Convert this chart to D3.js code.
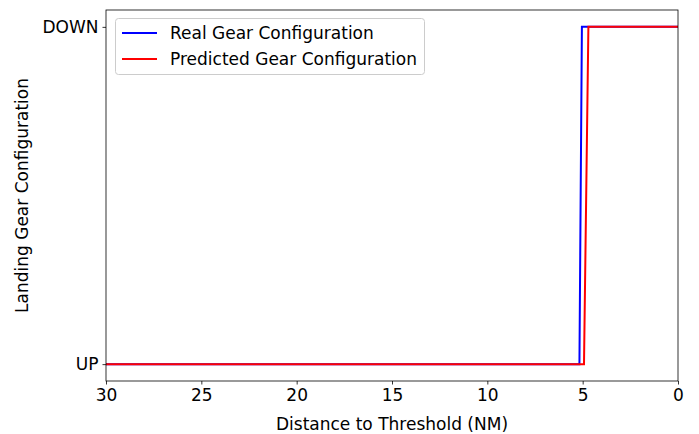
<!DOCTYPE html>
<html><head><meta charset="utf-8">
<script src="https://cdn.jsdelivr.net/npm/d3@7"></script>
<style>body{margin:0;background:#fff}svg{display:block;font-family:"DejaVu Sans",sans-serif}</style>
</head><body><svg id="c" width="699" height="434"></svg>
<script>
const xTicks = [30, 25, 20, 15, 10, 5, 0];
const yTicks = [0, 1];
const yTickLabels = ["UP", "DOWN"];
const realDist = [30, 5.17, 5.04, 0];
const realGear = [0, 0, 1, 1];
const predDist = [30, 4.93, 4.70, 0];
const predGear = [0, 0, 1, 1];
const seriesNames = ["Real Gear Configuration", "Predicted Gear Configuration"];
const seriesColors = ["#0000ff", "#ff0000"];

const svg = d3.select("#c");
const L = 106, R = 678, T = 10, B = 381;
const x = d3.scaleLinear().domain([30, 0]).range([L, R]);
const y = d3.scaleLinear().domain([-0.05, 1.05]).range([B, T]);

const xAxis = svg.append("g").attr("transform", `translate(0,${B})`)
  .call(d3.axisBottom(x).tickValues(xTicks).tickSize(3.5).tickPadding(4).tickFormat(d3.format("d")));
const yAxis = svg.append("g").attr("transform", `translate(${L},0)`)
  .call(d3.axisLeft(y).tickValues(yTicks).tickSize(3.5).tickPadding(4).tickFormat((d,i)=>yTickLabels[i]));
[xAxis, yAxis].forEach(a => {
  a.attr("font-size", 17).attr("font-family", "DejaVu Sans");
  a.select(".domain").remove();
  a.selectAll("text").attr("fill", "#000");
  a.selectAll("line").attr("stroke", "#000").attr("stroke-width", 0.8);
});

const line = d3.line().x(d => x(d[0])).y(d => y(d[1]));
const series = [
  d3.zip(realDist, realGear),
  d3.zip(predDist, predGear)
];
series.forEach((s, i) => {
  svg.append("path").datum(s).attr("d", line).attr("fill", "none")
    .attr("stroke", seriesColors[i]).attr("stroke-width", 2);
});

svg.append("rect").attr("x", L).attr("y", T).attr("width", R - L).attr("height", B - T)
  .attr("fill", "none").attr("stroke", "#000").attr("stroke-width", 0.8);

// legend
const lg = svg.append("g");
lg.append("rect").attr("x", 115.5).attr("y", 18.5).attr("width", 309).attr("height", 56).attr("rx", 3)
  .attr("fill", "#fff").attr("fill-opacity", 0.8).attr("stroke", "#ccc").attr("stroke-width", 1);
seriesNames.forEach((n, i) => {
  const yy = 33 + i * 26;
  lg.append("line").attr("x1", 122).attr("x2", 157).attr("y1", yy).attr("y2", yy)
    .attr("stroke", seriesColors[i]).attr("stroke-width", 2);
  lg.append("text").attr("x", 170).attr("y", yy).attr("dy", "0.35em").attr("font-size", 17).text(n);
});

svg.append("text").attr("x", (L + R) / 2).attr("y", 430).attr("text-anchor", "middle")
  .attr("font-size", 17).text("Distance to Threshold (NM)");
svg.append("text").attr("transform", `translate(28,${(T + B) / 2}) rotate(-90)`).attr("text-anchor", "middle")
  .attr("font-size", 17).text("Landing Gear Configuration");
</script></body></html>
